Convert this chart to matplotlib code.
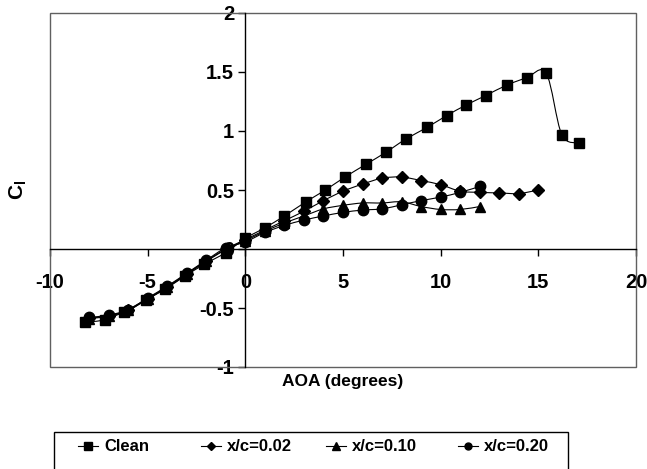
import matplotlib
matplotlib.use("Agg")
import matplotlib.pyplot as plt
from matplotlib.path import Path
from matplotlib.patches import PathPatch, Rectangle
from matplotlib.lines import Line2D
import numpy as np

plt.rcParams["font.family"] = ["Liberation Sans", "DejaVu Sans"]
plt.rcParams["mathtext.fontset"] = "custom"
plt.rcParams["mathtext.rm"] = "Liberation Sans"
plt.rcParams["mathtext.bf"] = "Liberation Sans:bold"

# Lift coefficient vs angle of attack
clean_aoa = [-8.2, -7.2, -6.2, -5.1, -4.1, -3.1, -2.1, -1.0, 0.0, 1.0, 2.0, 3.1, 4.1,
             5.1, 6.2, 7.2, 8.2, 9.3, 10.3, 11.3, 12.3, 13.4, 14.4, 15.4, 16.2, 17.1]
clean_cl = [-0.62, -0.60, -0.53, -0.43, -0.34, -0.23, -0.13, -0.03, 0.09, 0.18, 0.28, 0.40, 0.50,
            0.61, 0.72, 0.82, 0.93, 1.03, 1.13, 1.22, 1.30, 1.39, 1.45, 1.49, 0.97, 0.90]

x002_aoa = [-8, -7, -6, -5, -4, -3, -2, -1, 0, 1, 2, 3, 4, 5, 6, 7, 8, 9, 10, 11, 12, 13, 14, 15]
x002_cl = [-0.585, -0.565, -0.52, -0.42, -0.32, -0.21, -0.10, 0.00, 0.08, 0.16, 0.24, 0.32, 0.41,
           0.49, 0.55, 0.60, 0.61, 0.58, 0.545, 0.49, 0.48, 0.475, 0.47, 0.50]

x010_aoa = [-8, -7, -6, -5, -4, -3, -2, -1, 0, 1, 2, 3, 4, 5, 6, 7, 8, 9, 10, 11, 12]
x010_cl = [-0.59, -0.57, -0.52, -0.425, -0.325, -0.215, -0.105, -0.005, 0.07, 0.15, 0.22, 0.28,
           0.34, 0.37, 0.39, 0.39, 0.40, 0.36, 0.335, 0.335, 0.36]

x020_aoa = [-8, -7, -6, -5, -4, -3, -2, -1, 0, 1, 2, 3, 4, 5, 6, 7, 8, 9, 10, 11, 12]
x020_cl = [-0.58, -0.56, -0.515, -0.415, -0.315, -0.205, -0.095, 0.01, 0.06, 0.14, 0.20, 0.245,
           0.28, 0.31, 0.33, 0.34, 0.375, 0.41, 0.44, 0.48, 0.53]

series_labels = ["Clean", "x/c=0.02", "x/c=0.10", "x/c=0.20"]
x_ticks = [-10, -5, 0, 5, 10, 15, 20]
y_ticks = [-1, -0.5, 0, 0.5, 1, 1.5, 2]
y_ticklabels = ["-1", "-0.5", "0", "0.5", "1", "1.5", "2"]

W, H = 647, 469
fig = plt.figure(figsize=(W / 100, H / 100), dpi=100)
ax = fig.add_axes([50 / W, 1 - 367 / H, 586 / W, 354 / H])
ax.set_xlim(-10, 20)
ax.set_ylim(-1, 2)
ax.set_axisbelow(True)


def smooth_path(x, y):
    """Cardinal (Catmull-Rom) Bezier path through the points."""
    pts = np.column_stack([x, y]).astype(float)
    n = len(pts)
    verts = [pts[0]]
    codes = [Path.MOVETO]
    for i in range(n - 1):
        p0 = pts[i - 1] if i > 0 else pts[i]
        p1 = pts[i]
        p2 = pts[i + 1]
        p3 = pts[i + 2] if i + 2 < n else pts[i + 1]
        verts += [p1 + (p2 - p0) / 6.0, p2 - (p3 - p1) / 6.0, p2]
        codes += [Path.CURVE4] * 3
    return Path(verts, codes)


series = [
    (x020_aoa, x020_cl, "o", 7.5),
    (x010_aoa, x010_cl, "^", 7.5),
    (x002_aoa, x002_cl, "D", 6.2),
    (clean_aoa, clean_cl, "s", 7.2),
]
for xs, ys, mk, ms in series:
    ax.add_patch(PathPatch(smooth_path(xs, ys), facecolor="none", edgecolor="black",
                           lw=0.8, zorder=2))
    ax.plot(xs, ys, linestyle="none", marker=mk, ms=ms, color="black", zorder=3)

# Plot-area frame
ax.add_patch(Rectangle((0, 0), 1, 1, transform=ax.transAxes, fill=False,
                       edgecolor="#606060", lw=1.0, zorder=1, clip_on=False))

# Axes crossing at zero
for side in ["top", "right"]:
    ax.spines[side].set_visible(False)
ax.spines["left"].set_position(("data", 0))
ax.spines["bottom"].set_position(("data", 0))
ax.spines["left"].set_linewidth(1.0)
ax.spines["bottom"].set_linewidth(1.0)

ax.set_xticks(x_ticks)
ax.set_xticklabels([str(t) for t in x_ticks])
ax.set_yticks(y_ticks)
ax.set_yticklabels(y_ticklabels)
ax.tick_params(axis="x", direction="out", length=5, width=1, pad=12, labelsize=14.5)
ax.tick_params(axis="y", direction="out", length=5, width=1, pad=3, labelsize=14.5)
for lbl in ax.get_xticklabels() + ax.get_yticklabels():
    lbl.set_fontweight("bold")

fig.text(343 / W, 1 - 381 / H, "AOA (degrees)", ha="center", va="center",
         fontsize=12.5, fontweight="bold")
fig.text(18 / W, 1 - 190 / H, r"$\mathbf{C}_\mathbf{l}$", ha="center", va="center",
         rotation=90, fontsize=15)

# Legend box along the bottom
fig.patches.append(Rectangle((54 / W, 1 - 475 / H), (568 - 54) / W, (475 - 432) / H,
                             transform=fig.transFigure, fill=False, edgecolor="black",
                             lw=1.0))
legend_marker = ["s", "D", "^", "o"]
legend_ms = [5.5, 4.5, 5.5, 5.0]
legend_x = [88, 211, 336, 468]
ly = 1 - 446 / H
for lbl, mk, ms, cx in zip(series_labels, legend_marker, legend_ms, legend_x):
    fig.add_artist(Line2D([(cx - 10) / W, (cx + 10) / W], [ly, ly], color="black", lw=0.8,
                          transform=fig.transFigure))
    fig.add_artist(Line2D([cx / W], [ly], marker=mk, ms=ms, color="black",
                          transform=fig.transFigure))
    fig.text((cx + 16) / W, ly, lbl, ha="left", va="center", fontsize=12,
             fontweight="bold")

fig.savefig("out.png", dpi=100)
